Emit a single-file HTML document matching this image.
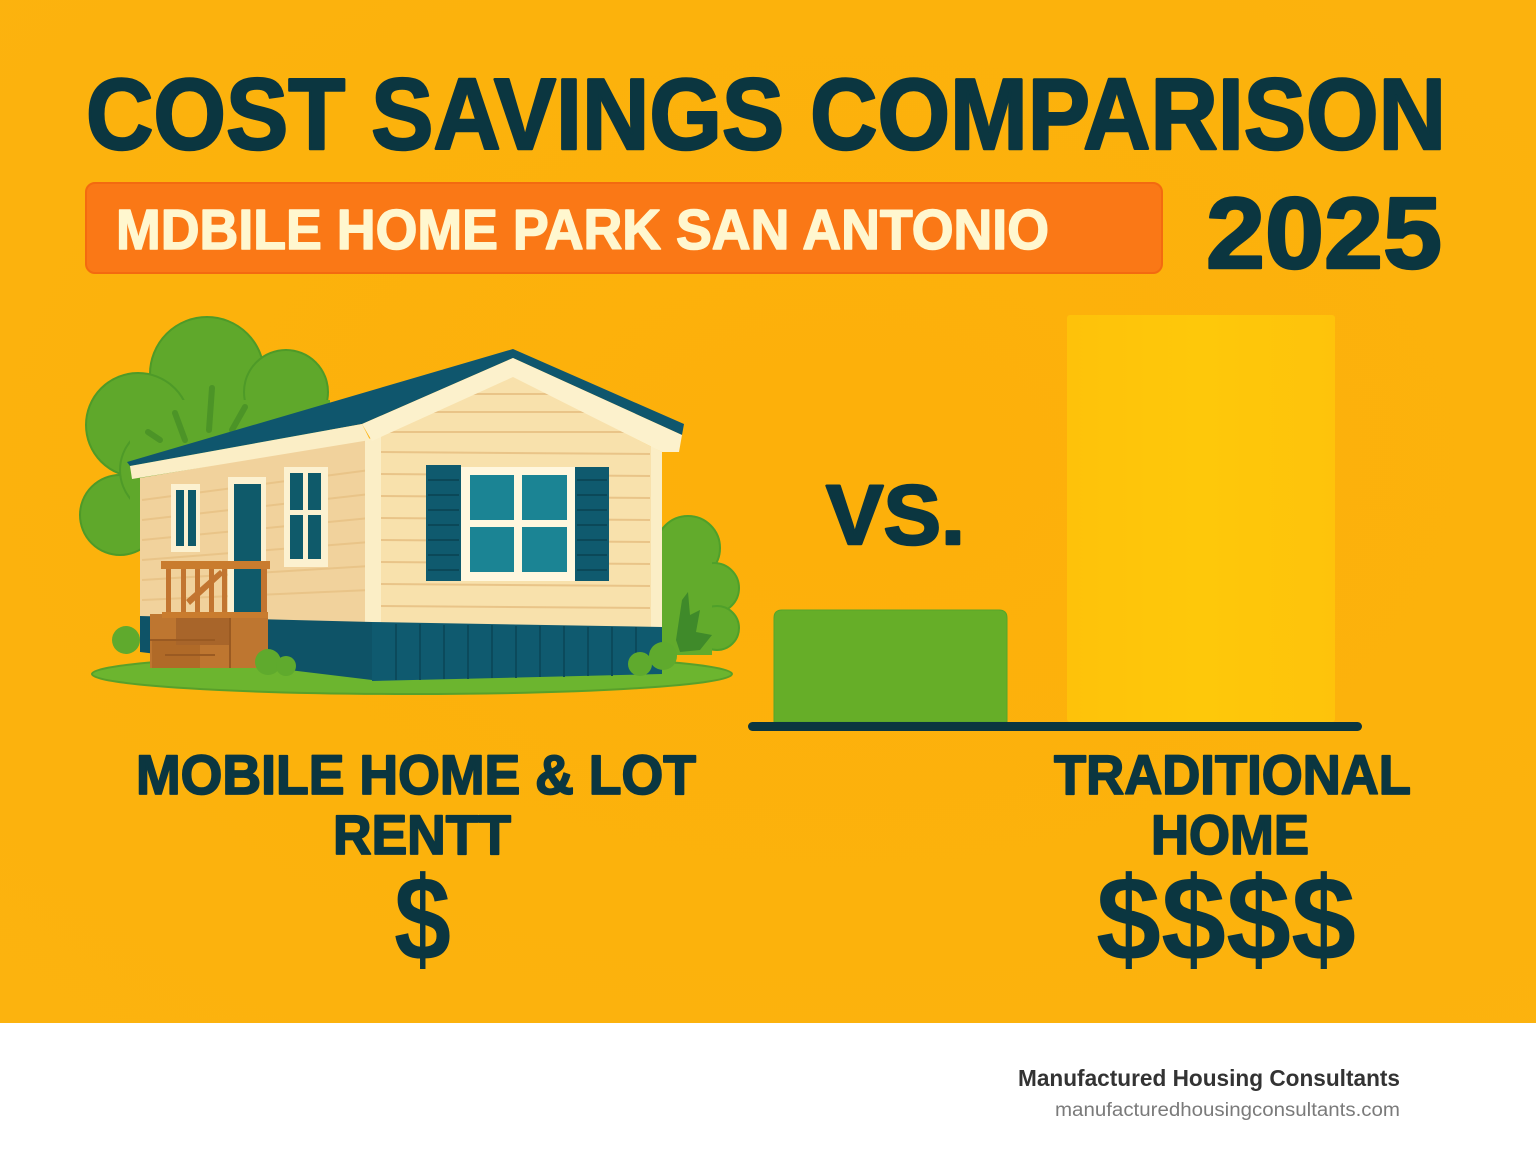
<!DOCTYPE html>
<html>
<head>
<meta charset="utf-8">
<style>
html,body{margin:0;padding:0;background:#fff;}
body{width:1536px;height:1154px;overflow:hidden;}
svg{display:block;}
text{font-family:"Liberation Sans",Arial,sans-serif;}
</style>
</head>
<body>
<svg width="1536" height="1154" viewBox="0 0 1536 1154" xmlns="http://www.w3.org/2000/svg">
<defs>
<radialGradient id="bg" cx="0.55" cy="0.45" r="0.8">
<stop offset="0" stop-color="#FDB00A"/>
<stop offset="1" stop-color="#FCB30E"/>
</radialGradient>
<linearGradient id="yb" x1="0" y1="0" x2="1" y2="0">
<stop offset="0" stop-color="#FEC20A"/>
<stop offset="0.5" stop-color="#FEC80A"/>
<stop offset="1" stop-color="#FEC30B"/>
</linearGradient>
</defs>
<rect x="0" y="0" width="1536" height="1023" fill="url(#bg)"/>
<rect x="0" y="1023" width="1536" height="131" fill="#FFFFFF"/>

<!-- Title -->
<text x="86" y="149" font-size="101" font-weight="bold" fill="#0B3640" stroke="#0B3640" stroke-width="2.5" stroke-linejoin="round" textLength="1360" lengthAdjust="spacingAndGlyphs">COST SAVINGS COMPARISON</text>

<!-- Banner -->
<rect x="86" y="183" width="1076" height="90" rx="9" fill="#FA7816" stroke="#F36A10" stroke-width="2"/>
<text x="116" y="249" font-size="57" font-weight="bold" fill="#FFF7CF" stroke="#FFF7CF" stroke-width="1.5" stroke-linejoin="round" textLength="933" lengthAdjust="spacingAndGlyphs">MDBILE HOME PARK SAN ANTONIO</text>
<text x="1206" y="268" font-size="101" font-weight="bold" fill="#0B3640" stroke="#0B3640" stroke-width="2.5" stroke-linejoin="round" textLength="236" lengthAdjust="spacingAndGlyphs">2025</text>

<!-- Tree behind house -->
<g fill="#5FA82B" stroke="#4E9A28" stroke-width="2">
<circle cx="207" cy="374" r="57"/>
<circle cx="286" cy="392" r="42"/>
<circle cx="138" cy="425" r="52"/>
<circle cx="120" cy="515" r="40"/>
<circle cx="165" cy="470" r="45"/>
<rect x="130" y="400" width="200" height="120" stroke="none"/>
</g>
<g stroke="#4C9427" stroke-width="6" stroke-linecap="round" fill="none">
<path d="M209 430 L212 388"/>
<path d="M185 440 L175 413"/>
<path d="M232 430 L245 407"/>
<path d="M160 440 L148 432"/>
</g>

<!-- Right bushes -->
<g fill="#62AB2C" stroke="#4FA02A" stroke-width="2">
<circle cx="688" cy="548" r="32"/>
<circle cx="714" cy="588" r="25"/>
<circle cx="717" cy="628" r="22"/>
<rect x="662" y="545" width="50" height="110" stroke="none"/>
</g>
<path d="M676 640 L682 600 L688 592 L690 615 L700 610 L696 632 L712 635 L700 650 L680 652 Z" fill="#3F8A2A"/>

<!-- Ground -->
<ellipse cx="412" cy="674" rx="320" ry="20" fill="#6CB52F" stroke="#58A02A" stroke-width="2"/>

<!-- House walls -->
<polygon points="140,478 372,438 372,625 140,618" fill="#F1D29C"/>
<polygon points="372,440 513,376 662,452 662,628 372,625" fill="#F8E1AC"/>
<!-- siding lines -->
<g stroke="#E9C488" stroke-width="2">
<line x1="142" y1="500" x2="370" y2="470"/>
<line x1="142" y1="520" x2="370" y2="494"/>
<line x1="142" y1="540" x2="370" y2="518"/>
<line x1="142" y1="560" x2="370" y2="542"/>
<line x1="142" y1="580" x2="370" y2="566"/>
<line x1="142" y1="600" x2="370" y2="590"/>
<line x1="380" y1="432" x2="650" y2="432"/>
<line x1="380" y1="452" x2="650" y2="454"/>
<line x1="380" y1="474" x2="650" y2="476"/>
<line x1="380" y1="496" x2="650" y2="498"/>
<line x1="380" y1="518" x2="650" y2="520"/>
<line x1="380" y1="540" x2="650" y2="542"/>
<line x1="380" y1="562" x2="650" y2="564"/>
<line x1="380" y1="584" x2="650" y2="586"/>
<line x1="380" y1="606" x2="650" y2="608"/>
<line x1="420" y1="412" x2="606" y2="412"/>
<line x1="460" y1="394" x2="566" y2="394"/>
</g>
<!-- corner trims -->
<polygon points="365,440 381,436 381,626 365,625" fill="#FBEEC6"/>
<polygon points="651,446 662,452 662,628 651,628" fill="#FBEEC6"/>

<!-- Skirting -->
<polygon points="140,616 372,622 372,680 140,652" fill="#0E5367"/>
<polygon points="372,622 662,627 662,674 372,681" fill="#0F5A6F"/>
<g stroke="#0B4A5C" stroke-width="2">
<line x1="396" y1="624" x2="396" y2="680"/>
<line x1="420" y1="624" x2="420" y2="680"/>
<line x1="444" y1="625" x2="444" y2="679"/>
<line x1="468" y1="625" x2="468" y2="679"/>
<line x1="492" y1="625" x2="492" y2="678"/>
<line x1="516" y1="626" x2="516" y2="678"/>
<line x1="540" y1="626" x2="540" y2="677"/>
<line x1="564" y1="626" x2="564" y2="677"/>
<line x1="588" y1="627" x2="588" y2="676"/>
<line x1="612" y1="627" x2="612" y2="676"/>
<line x1="636" y1="627" x2="636" y2="675"/>
</g>

<!-- Roof -->
<polygon points="127,462 513,349 684,424 682,435 513,358 362,424 130,466" fill="#0F566D"/>
<polygon points="130,466 362,424 370,440 132,479" fill="#FBEEC6"/>
<polygon points="362,424 513,358 682,435 679,452 662,452 513,377 372,441" fill="#FCF1CC"/>

<!-- Windows -->
<rect x="171" y="484" width="29" height="68" fill="#FCF1D0"/>
<rect x="176" y="490" width="8" height="56" fill="#0F5A6A"/>
<rect x="188" y="490" width="8" height="56" fill="#0F5A6A"/>
<rect x="228" y="477" width="38" height="142" fill="#FCF1D0"/>
<rect x="234" y="484" width="27" height="132" fill="#0F5A6A"/>
<rect x="284" y="467" width="44" height="100" fill="#FCF1D0"/>
<rect x="290" y="473" width="13" height="37" fill="#0F5A6A"/>
<rect x="308" y="473" width="13" height="37" fill="#0F5A6A"/>
<rect x="290" y="515" width="13" height="44" fill="#0F5A6A"/>
<rect x="308" y="515" width="13" height="44" fill="#0F5A6A"/>

<rect x="426" y="465" width="35" height="116" fill="#0F5A6E"/>
<rect x="575" y="467" width="34" height="114" fill="#0F5A6E"/>
<g stroke="#0B4858" stroke-width="2">
<line x1="428" y1="480" x2="459" y2="480"/><line x1="428" y1="495" x2="459" y2="495"/><line x1="428" y1="510" x2="459" y2="510"/><line x1="428" y1="525" x2="459" y2="525"/><line x1="428" y1="540" x2="459" y2="540"/><line x1="428" y1="555" x2="459" y2="555"/><line x1="428" y1="570" x2="459" y2="570"/>
<line x1="577" y1="480" x2="607" y2="480"/><line x1="577" y1="495" x2="607" y2="495"/><line x1="577" y1="510" x2="607" y2="510"/><line x1="577" y1="525" x2="607" y2="525"/><line x1="577" y1="540" x2="607" y2="540"/><line x1="577" y1="555" x2="607" y2="555"/><line x1="577" y1="570" x2="607" y2="570"/>
</g>
<rect x="461" y="467" width="114" height="114" fill="#FFF7DE"/>
<rect x="470" y="475" width="44" height="45" fill="#1B8494"/>
<rect x="522" y="475" width="45" height="45" fill="#1B8494"/>
<rect x="470" y="527" width="44" height="45" fill="#1B8494"/>
<rect x="522" y="527" width="45" height="45" fill="#1B8494"/>

<!-- Porch -->
<polygon points="150,614 268,614 268,668 150,668" fill="#BE7630"/>
<polygon points="152,640 200,640 200,668 152,668" fill="#B06A28"/>
<polygon points="176,618 230,618 230,645 176,645" fill="#A8652A"/>
<g stroke="#9A5A22" stroke-width="2">
<line x1="150" y1="640" x2="215" y2="640"/>
<line x1="165" y1="655" x2="215" y2="655"/>
<line x1="230" y1="614" x2="230" y2="668"/>
</g>
<rect x="161" y="561" width="109" height="8" fill="#C97C2E"/>
<g fill="#C27530">
<rect x="166" y="569" width="5" height="48"/>
<rect x="181" y="569" width="5" height="48"/>
<rect x="195" y="569" width="5" height="48"/>
<rect x="209" y="569" width="5" height="48"/>
<rect x="222" y="569" width="5" height="48"/>
<rect x="261" y="569" width="6" height="48"/>
</g>
<polygon points="186,600 220,570 224,574 190,605" fill="#C27530"/>
<rect x="162" y="612" width="106" height="6" fill="#C97C2E"/>

<!-- small bushes -->
<g fill="#5FAA2D">
<circle cx="126" cy="640" r="14"/>
<circle cx="268" cy="662" r="13"/>
<circle cx="286" cy="666" r="10"/>
<circle cx="640" cy="664" r="12"/>
<circle cx="663" cy="656" r="14"/>
</g>

<!-- Bars -->
<path d="M774 722 L774 618 Q774 610 782 610 L999 610 Q1007 610 1007 618 L1007 722 Z" fill="#66AE28" stroke="#55A52A" stroke-width="1"/>
<rect x="1067" y="315" width="268" height="407" rx="3" fill="url(#yb)"/>
<rect x="748" y="722" width="614" height="9" rx="4.5" fill="#0B3640"/>

<text x="826" y="544" font-size="84" font-weight="bold" fill="#0B3640" stroke="#0B3640" stroke-width="2.5" stroke-linejoin="round" textLength="139" lengthAdjust="spacingAndGlyphs">VS.</text>

<!-- Labels -->
<text x="136" y="794" font-size="56" font-weight="bold" fill="#0B3640" stroke="#0B3640" stroke-width="1.8" stroke-linejoin="round" textLength="560" lengthAdjust="spacingAndGlyphs">MOBILE HOME &amp; LOT</text>
<text x="333" y="854" font-size="56" font-weight="bold" fill="#0B3640" stroke="#0B3640" stroke-width="1.8" stroke-linejoin="round" textLength="178" lengthAdjust="spacingAndGlyphs">RENTT</text>
<text x="394" y="960" font-size="120" font-weight="bold" fill="#0B3640" textLength="57" lengthAdjust="spacingAndGlyphs">$</text>

<text x="1054" y="794" font-size="56" font-weight="bold" fill="#0B3640" stroke="#0B3640" stroke-width="1.8" stroke-linejoin="round" textLength="357" lengthAdjust="spacingAndGlyphs">TRADITIONAL</text>
<text x="1151" y="854" font-size="56" font-weight="bold" fill="#0B3640" stroke="#0B3640" stroke-width="1.8" stroke-linejoin="round" textLength="158" lengthAdjust="spacingAndGlyphs">HOME</text>
<text x="1096" y="960" font-size="120" font-weight="bold" fill="#0B3640" textLength="260" lengthAdjust="spacingAndGlyphs">$$$$</text>

<!-- Footer -->
<text x="1018" y="1086" font-size="23" font-weight="bold" fill="#333333" textLength="382" lengthAdjust="spacingAndGlyphs">Manufactured Housing Consultants</text>
<text x="1055" y="1116" font-size="19" fill="#7A7A7A" textLength="345" lengthAdjust="spacingAndGlyphs">manufacturedhousingconsultants.com</text>
</svg>
</body>
</html>
